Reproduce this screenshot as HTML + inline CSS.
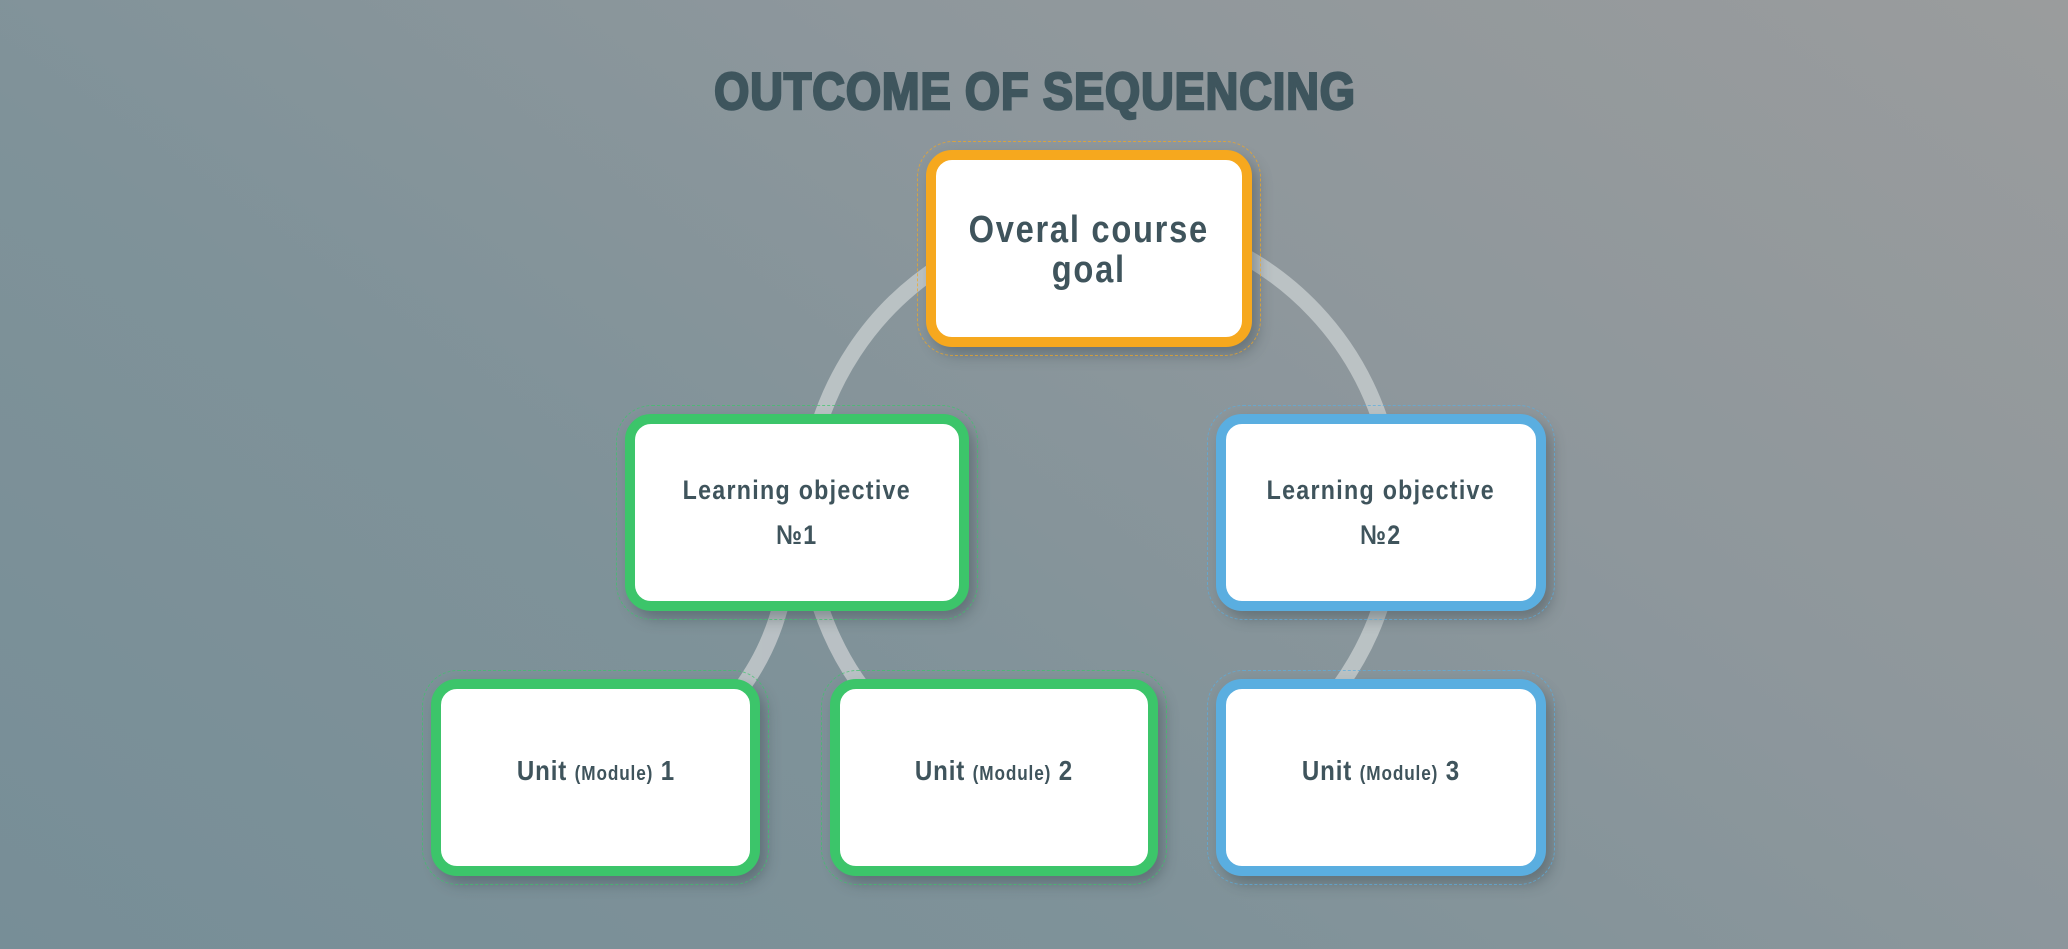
<!DOCTYPE html>
<html><head><meta charset="utf-8"><style>
html,body{margin:0;padding:0}
body{width:2068px;height:949px;overflow:hidden;position:relative;
background:linear-gradient(215deg,#9a9c9d 0%,#8e979c 35%,#7f9299 65%,#778e97 100%);
font-family:"Liberation Sans",sans-serif;color:#3f545c}
.title{position:absolute;left:600px;top:62px;width:870px;text-align:center;white-space:nowrap;font-family:"Liberation Sans",sans-serif;font-weight:bold;font-size:52px;letter-spacing:1px;color:#3e555d;-webkit-text-stroke:2.5px #3e555d;line-height:60px;transform:scaleX(.87)}
.box{position:absolute;box-sizing:border-box;background:#fff;border:10px solid;border-radius:26px;display:flex;align-items:center;justify-content:center;text-align:center;font-weight:bold;box-shadow:6px 8px 14px rgba(40,55,60,.35)}
.box::before{content:"";position:absolute;left:-19px;top:-19px;right:-19px;bottom:-19px;border:1.5px dashed;border-color:inherit;border-radius:36px;opacity:.7}
.o{border-color:#f6a81e}.g{border-color:#3cc56a}.b{border-color:#5aaee0}
.box div{transform:scaleX(.86);white-space:nowrap}
.t1{font-size:38px;letter-spacing:2px;line-height:40px;margin-top:2px}
.t2{font-size:27px;letter-spacing:1.5px;line-height:45px;margin-top:0px}
.t3{font-size:28px;letter-spacing:1px;margin-top:-14px}
.t3 small{font-size:20px}
</style></head><body>
<svg width="2068" height="949" style="position:absolute;left:0;top:0">
<g fill="none" stroke="#c0c6c9" stroke-width="16" opacity=".9">
<path d="M1248 769 A295 295 0 1 0 1000 791"/>
<path d="M782 600 Q770 650 740 690"/>
</g>
</svg>
<div class="title">OUTCOME OF SEQUENCING</div>
<div class="box o" style="left:926px;top:150px;width:326px;height:197px"><div class="t1">Overal course<br>goal</div></div>
<div class="box g" style="left:625px;top:414px;width:344px;height:197px"><div class="t2">Learning objective<br>№1</div></div>
<div class="box b" style="left:1216px;top:414px;width:330px;height:197px"><div class="t2">Learning objective<br>№2</div></div>
<div class="box g" style="left:431px;top:679px;width:329px;height:197px"><div class="t3">Unit <small>(Module)</small> 1</div></div>
<div class="box g" style="left:830px;top:679px;width:328px;height:197px"><div class="t3">Unit <small>(Module)</small> 2</div></div>
<div class="box b" style="left:1216px;top:679px;width:330px;height:197px"><div class="t3">Unit <small>(Module)</small> 3</div></div>
</body></html>
